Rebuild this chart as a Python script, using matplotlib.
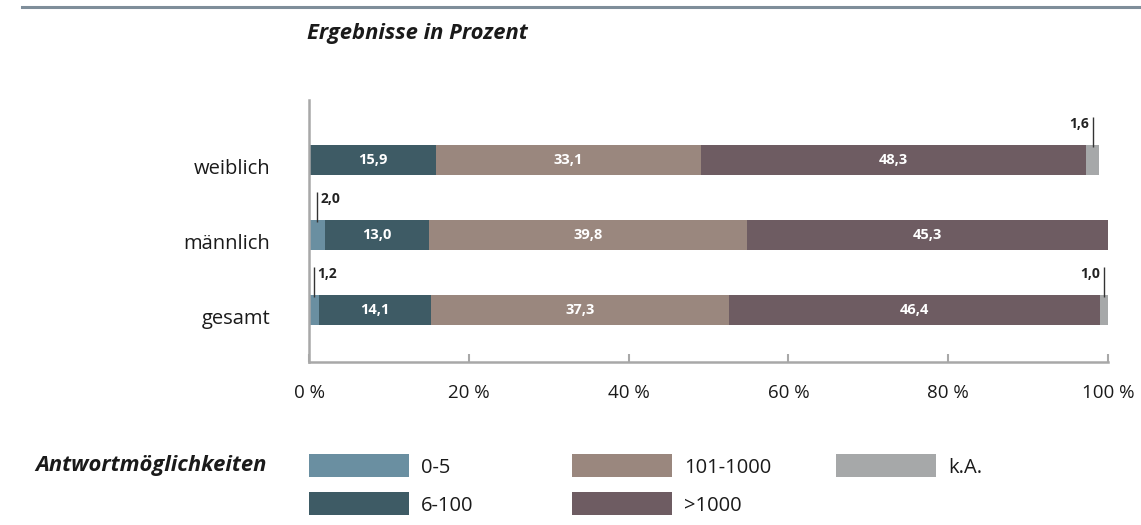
import matplotlib
matplotlib.use('Agg')
import matplotlib.pyplot as plt
import matplotlib.transforms as mtrans
from matplotlib.patches import Rectangle
from matplotlib.lines import Line2D

plt.rcParams['font.family'] = ['Open Sans', 'DejaVu Sans']

#%% data (percent)
categories = ['gesamt', 'männlich', 'weiblich']
groups = ['0-5', '6-100', '101-1000', '>1000', 'k.A.']
v_0_5 = [1.2, 2.0, 0.0]
v_6_100 = [14.1, 13.0, 15.9]
v_101_1000 = [37.3, 39.8, 33.1]
v_over_1000 = [46.4, 45.3, 48.3]
v_ka = [1.0, 0.0, 1.6]
xticks = [0, 20, 40, 60, 80, 100]

series = [v_0_5, v_6_100, v_101_1000, v_over_1000, v_ka]
colors = ['#6a8fa1', '#3e5b65', '#9a877e', '#6e5c62', '#a6a8a9']
axis_col = '#a8a8a8'
txt_col = '#1a1a1a'

def fmt(v):
    return ('%.1f' % v).replace('.', ',')

#%% figure
fig = plt.figure(figsize=(11.41, 5.25), dpi=100)
W, H = 1141, 525
ax = fig.add_axes([309 / W, 1 - 362 / H, 799 / W, 262 / H])

ypos = list(range(len(categories)))
bar_h = 0.4
left = [0.0] * len(categories)
for k, (vals, col) in enumerate(zip(series, colors)):
    ax.barh(ypos, vals, left=left, height=bar_h, color=col, edgecolor='none')
    for i, v in enumerate(vals):
        if v <= 0:
            continue
        xc = left[i] + v / 2
        if v >= 5:
            ax.text(xc, ypos[i], fmt(v), ha='center', va='center',
                    color='white', fontsize=10.5, fontweight='bold')
        else:
            top = ypos[i] + bar_h / 2
            ax.plot([xc, xc], [top - 0.03, top + 0.37], color='#333333', lw=1,
                    solid_capstyle='butt')
            dx = 2.5 if k == 0 else -2.5
            ax.annotate(fmt(v), (xc, top + 0.28), xytext=(dx, 0),
                        textcoords='offset points',
                        ha='left' if k == 0 else 'right', va='center',
                        fontsize=10, fontweight='bold', color='#222222')
        left[i] += v

ax.set_xlim(0, 100)
ax.set_ylim(-0.693, 2.8)
ax.set_yticks(ypos)
ax.set_yticklabels(categories, fontsize=14.5, color=txt_col)
ax.set_xticks(xticks)
ax.set_xticklabels(['%d %%' % t for t in xticks], fontsize=13.5, color=txt_col)
ax.tick_params(axis='y', length=0, pad=28)
ax.tick_params(axis='x', direction='in', length=6, width=1.5, color=axis_col, pad=16)
shift = mtrans.ScaledTranslation(0, -5 / 72, fig.dpi_scale_trans)
for lab in ax.get_yticklabels():
    lab.set_transform(lab.get_transform() + shift)
for s in ['top', 'right']:
    ax.spines[s].set_visible(False)
for s in ['left', 'bottom']:
    ax.spines[s].set_color(axis_col)
    ax.spines[s].set_linewidth(1.8)

#%% header line and title
fig.add_artist(Line2D([22 / W, 1], [1 - 7 / H, 1 - 7 / H], color='#7f8e9a', lw=2.2))
fig.text(307 / W, 1 - 34 / H, 'Ergebnisse in Prozent', fontsize=15.8,
         fontweight='bold', style='italic', va='center', ha='left', color=txt_col)

#%% legend drawn by hand
fig.text(35 / W, 1 - 466 / H, 'Antwortmöglichkeiten', fontsize=15.8,
         fontweight='bold', style='italic', va='center', ha='left', color=txt_col)
leg_x = [309, 309, 572, 572, 836]
leg_y = [454, 492, 454, 492, 454]
for name, col, lx, ly in zip(groups, colors, leg_x, leg_y):
    fig.add_artist(Rectangle((lx / W, 1 - (ly + 23) / H), 100 / W, 23 / H,
                             facecolor=col, edgecolor='none'))
    fig.text((lx + 112) / W, 1 - (ly + 14) / H, name, fontsize=14.5,
             va='center', ha='left', color=txt_col)

fig.savefig('out.png', dpi=100)
